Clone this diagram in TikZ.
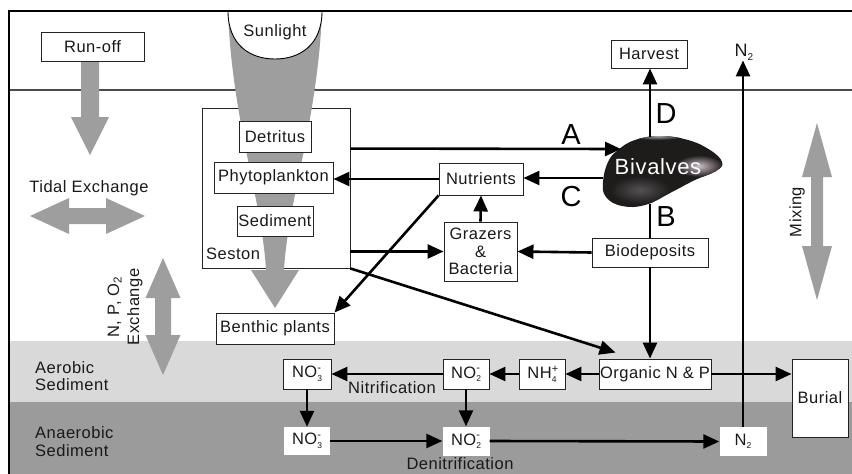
\documentclass[tikz,border=0pt]{standalone}
\usepackage{fontspec}
\setmainfont{Liberation Sans}[LetterSpace=3.0]
\usetikzlibrary{arrows.meta}
\definecolor{agray}{RGB}{158,158,158}
\definecolor{lband}{RGB}{217,217,217}
\definecolor{dband}{RGB}{155,155,155}
\definecolor{boxline}{RGB}{35,35,35}
\definecolor{shell}{RGB}{30,27,27}
\definecolor{shine}{RGB}{205,190,200}
\newcommand\lblfont{\fontsize{16.5}{17.5}\selectfont}
\newcommand\ionx[3]{#1\rlap{\raisebox{6.5pt}{\fontsize{11}{11}\selectfont #3}}\raisebox{-3.5pt}{\fontsize{8.5}{8.5}\selectfont #2}}
\begin{document}
\begin{tikzpicture}[x=1pt,y=-1pt,
  box/.style={draw=boxline, line width=0.9pt, fill=white, inner sep=0pt, font=\lblfont, text=black!90},
  wbox/.style={fill=white, inner sep=0pt, font=\lblfont, text=black!90},
  lbl/.style={font=\lblfont, inner sep=0pt, text=black!90},
  big/.style={font=\fontsize{29}{30}\selectfont, inner sep=0pt},
  flow/.style={line width=2.6pt, -{Triangle[length=16pt,width=14pt]}},
  plainline/.style={line width=2.6pt},
  grayarrow/.style={fill=agray}]
\useasboundingbox (0,0) rectangle (852,474);
% sediment bands
\fill[lband] (9,341) rectangle (852,402);
\fill[dband] (9,402) rectangle (852,474);
% water surface
\draw[line width=1.2pt, black!70] (9,90) -- (852,90);
% seston box
\node[draw=boxline, line width=0.9pt, minimum width=148pt, minimum height=160pt, inner sep=0pt] (seston) at (276,188) {};
\node[lbl, anchor=west] (sestonlbl) at (206,254) {Seston};
% sunlight cone
\fill[agray] (228,11) .. controls (232,120) and (262,200) .. (266,270) -- (251,270) -- (275,308) -- (299,270) -- (284,270) .. controls (288,200) and (318,120) .. (322,11) -- cycle;
\draw[line width=0.9pt, fill=white] (228,11) .. controls (228,45) and (250,59) .. (275,59) .. controls (300,59) and (322,45) .. (322,11);
\node[lbl] (sun) at (275,32) {Sunlight};
% gray arrows
\fill[grayarrow] (81,61) -- (99,61) -- (99,117) -- (109,117) -- (90,155) -- (71,117) -- (81,117) -- cycle;
\fill[grayarrow] (30,216) -- (69,198) -- (69,208) -- (106,208) -- (106,198) -- (145,216) -- (106,234) -- (106,224) -- (69,224) -- (69,234) -- cycle;
\fill[grayarrow] (163,258) -- (180.5,298) -- (171,298) -- (171,335) -- (180.5,335) -- (163,375) -- (145.5,335) -- (155,335) -- (155,298) -- (145.5,298) -- cycle;
\fill[grayarrow] (817,123) -- (832,177) -- (823,177) -- (823,246) -- (832,246) -- (817,300) -- (802,246) -- (811,246) -- (811,177) -- (802,177) -- cycle;
% frame
\draw[line width=2.4pt] (9,474) -- (9,11) -- (852,11);
% labels
\node[lbl] (tidal) at (89,188) {Tidal Exchange};
\node[lbl, rotate=90, align=center, font=\fontsize{16.5}{20}\selectfont] (npo) at (125,307) {N, P, O\textsubscript{2}\\Exchange};
\node[lbl, rotate=90] (mixlbl) at (797,212) {Mixing};
\node[lbl, anchor=west, align=left] (aer) at (35,376) {Aerobic\\Sediment};
\node[lbl, anchor=west, align=left] (anaer) at (35,441.5) {Anaerobic\\Sediment};
% boxes
\node[box, minimum width=103pt, minimum height=29pt] (runoff) at (92.5,46.5) {Run-off};
\node[box, minimum width=76pt, minimum height=28pt] (harvest) at (649,54) {Harvest};
\node[box, minimum width=72pt, minimum height=31pt] (detritus) at (275,136.5) {Detritus};
\node[box, minimum width=119pt, minimum height=31pt] (phyto) at (273.5,177.5) {Phytoplankton};
\node[box, minimum width=76pt, minimum height=30pt] (sediment) at (275,221) {Sediment};
\node[box, minimum width=118pt, minimum height=31pt] (benthic) at (275,328.5) {Benthic plants};
\node[box, minimum width=84pt, minimum height=32pt] (nutrients) at (481,179) {Nutrients};
\node[box, minimum width=73pt, minimum height=59pt, align=center] (grazers) at (480.5,251.5) {Grazers\\\&\\Bacteria};
\node[box, minimum width=116pt, minimum height=29pt] (biodep) at (650,252.5) {Biodeposits};
\node[box, minimum width=112pt, minimum height=30pt] (organic) at (655,374) {Organic N \& P};
\node[box, minimum width=46pt, minimum height=30pt] (nh4) at (542,374) {\ionx{NH}{4}{+}};
\node[box, minimum width=46pt, minimum height=30pt] (no2a) at (466,374) {\ionx{NO}{2}{-}};
\node[box, minimum width=48pt, minimum height=30pt] (no3a) at (307,374) {\ionx{NO}{3}{-}};
\node[box, minimum width=56pt, minimum height=78pt] (burial) at (820,398) {Burial};
\node[wbox, minimum width=46pt, minimum height=28pt] (no3b) at (307,441) {\ionx{NO}{3}{-}};
\node[wbox, minimum width=47pt, minimum height=29pt] (no2b) at (466,441) {\ionx{NO}{2}{-}};
\node[wbox, minimum width=47pt, minimum height=29pt] (n2b) at (743,441.5) {N\raisebox{-3.5pt}{\fontsize{8.5}{8.5}\selectfont 2}};
\node[lbl, font=\fontsize{18}{20}\selectfont] (n2top) at (744,52) {N\raisebox{-4pt}{\fontsize{10}{10}\selectfont 2}};
\node[lbl] (nitri) at (392,388) {Nitrification};
\node[lbl] (denitri) at (460,464) {Denitrification};
% bivalve
\begin{scope}
\clip plot[smooth cycle, tension=0.7] coordinates {(603,182) (608,162) (618,150) (635,140) (660,136) (688,140) (710,150) (722,162) (716,171) (695,180) (670,193) (645,205) (622,206) (606,197)};
\fill[shell] (595,130) rectangle (730,212);
\shade[inner color=gray!55!shell, outer color=shell] (640,190) ellipse [x radius=30, y radius=14];
\shade[inner color=shine, outer color=shell] (699,166) ellipse [x radius=24, y radius=11];
\shade[inner color=gray!70, outer color=shell] (658,136) ellipse [x radius=26, y radius=4];
\end{scope}
\node[font=\fontsize{22}{24}\selectfont, text=white, inner sep=0pt] (biv) at (658,167) {Bivalves};
\coordinate (bivA) at (621,149);
\coordinate (bivC) at (603,178);
\coordinate (bivT) at (650,137);
\coordinate (bivB) at (650,204);
% connectors
\draw[flow] ([yshift=-41pt]seston.north east) -- (bivA);
\draw[flow] (bivC) -- (bivC -| nutrients.east);
\draw[flow] (bivT) -- (bivT |- harvest.south);
\draw[plainline] (bivB) -- (bivB |- biodep.north);
\draw[flow] (nutrients.west) -- (nutrients.west -| phyto.east);
\draw[flow] (nutrients.south west) -- (benthic.north east);
\draw[flow] (grazers.north) -- (nutrients.south);
\draw[flow] (seston.east |- grazers.west) -- (grazers.west);
\draw[flow] (biodep.west) -- (grazers.east);
\draw[flow] (seston.south east) -- ([xshift=17pt,yshift=6pt]organic.north west);
\draw[flow] (biodep.south) -- (biodep.south |- organic.north);
\draw[flow] (organic.west) -- (nh4.east);
\draw[flow] (nh4.west) -- (no2a.east);
\draw[flow] (no2a.west) -- (no3a.east);
\draw[flow] (organic.east) -- (organic.east -| burial.west);
\draw[flow] (no3a.south) -- (no3b.north);
\draw[flow] (no2a.south) -- (no2b.north);
\draw[flow] (no3b.east) -- (no2b.west);
\draw[flow] (no2b.east) -- (n2b.west);
\draw[flow] (n2b.north) -- (n2b.north |- n2top.south);
% letters
\node[big] (la) at (571,135) {A};
\node[big] (lc) at (571,197) {C};
\node[big] (ld) at (666,113.5) {D};
\node[big] (lb) at (666,217) {B};
\end{tikzpicture}
\end{document}
